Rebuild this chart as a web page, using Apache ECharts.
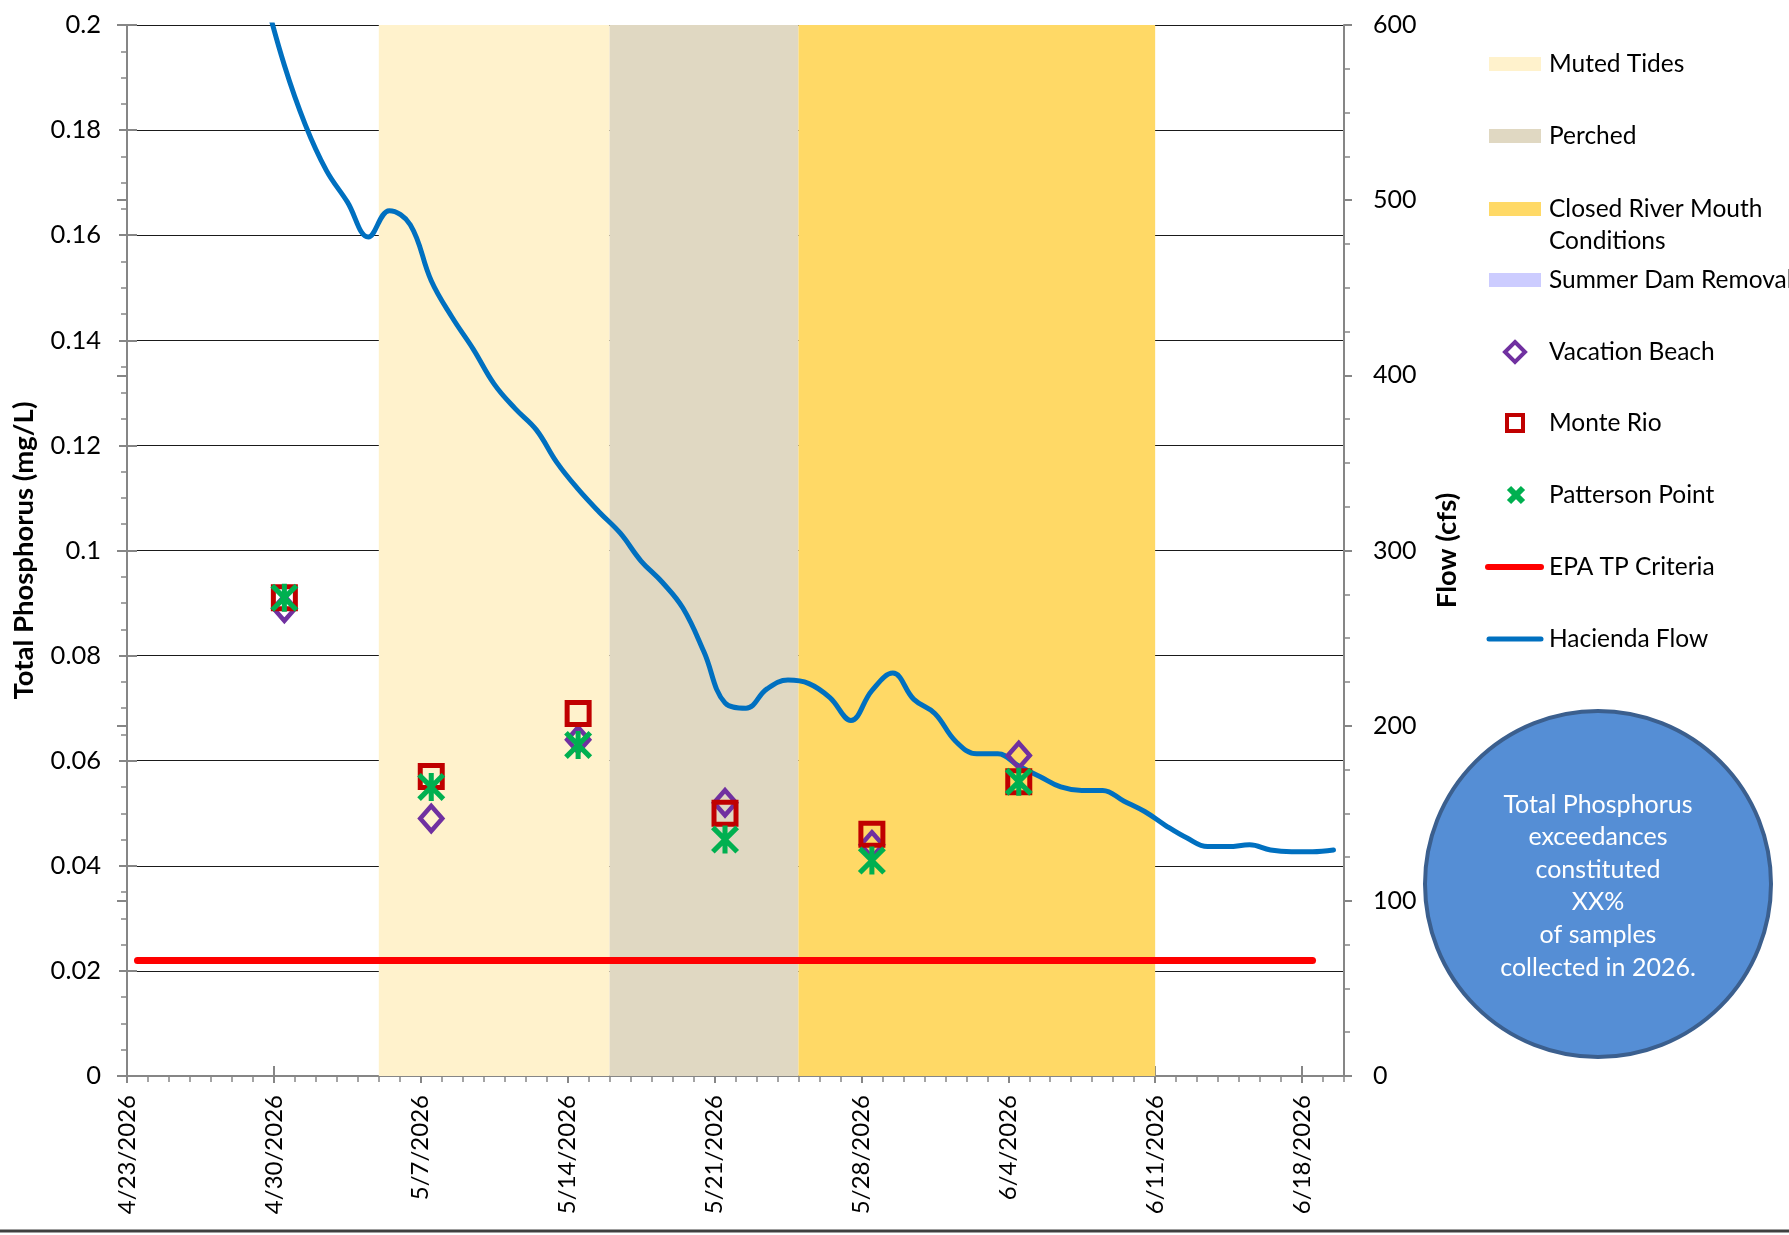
<!DOCTYPE html>
<html>
<head>
<meta charset="utf-8">
<script src="https://cdn.jsdelivr.net/npm/echarts@6/dist/echarts.min.js"></script>
<style>
html,body{margin:0;padding:0;background:#fff;}
#chart{width:1789px;height:1235px;}
</style>
</head>
<body>
<div id="chart"></div>
<script>
// ---------------- DATA ----------------
const START_DATE = '2026-04-23';
const END_DATE = '2026-06-20';
const xTickLabels = ['4/23/2026','4/30/2026','5/7/2026','5/14/2026','5/21/2026','5/28/2026','6/4/2026','6/11/2026','6/18/2026'];
const leftTickLabels = ['0','0.02','0.04','0.06','0.08','0.1','0.12','0.14','0.16','0.18','0.2'];
const rightTickLabels = ['0','100','200','300','400','500','600'];

const bandNames  = ['Muted Tides','Perched','Closed River Mouth Conditions'];
const bandStarts = ['2026-05-05','2026-05-16','2026-05-25'];
const bandEnds   = ['2026-05-16','2026-05-25','2026-06-11'];

const sampleDates    = ['2026-04-30','2026-05-07','2026-05-14','2026-05-21','2026-05-28','2026-06-04'];
const vacationBeach  = [0.089, 0.049, 0.064, 0.052, 0.044, 0.061];
const monteRio       = [0.091, 0.057, 0.069, 0.050, 0.046, 0.056];
const pattersonPoint = [0.091, 0.055, 0.063, 0.045, 0.041, 0.056];

const epaDates    = ['2026-04-23','2026-06-18'];
const epaCriteria = [0.022, 0.022];

const flowStartDate = '2026-04-29'; // daily values from this date
const haciendaFlow = [620,577,543,517,499,479,494,486,454,433,415,395,381,369,350,335,322,310,294,282,
                      267,242,213,210,221,226,224,216,203,220,230,215,207,191,184,184,177,171,165,163,
                      163,157,151,143,136,131,131,132,129,128,128,129];

const circleLines = ['Total Phosphorus','exceedances','constituted','XX%','of samples','collected in 2026.'];

// ---------------- HELPERS ----------------
const DAY = 86400000;
const t0 = Date.parse(START_DATE + 'T00:00:00Z');
const dayOf = s => (Date.parse(s + 'T00:00:00Z') - t0) / DAY;
const DAY_CENTER = 0.5; // Excel date axis plots points at the middle of the day
const xMax = dayOf(END_DATE);
const majorDays = xTickLabels.map((_, i) => i * 7);

const FONT = 'Lato, "Open Sans", sans-serif';
const AXIS_GREY = '#868686';

const flowData = haciendaFlow.map((v, i) => [dayOf(flowStartDate) + i + DAY_CENTER, v]);
const pts = arr => arr.map((v, i) => [dayOf(sampleDates[i]) + DAY_CENTER, v]);
const epaData = epaCriteria.map((v, i) => [dayOf(epaDates[i]) + DAY_CENTER, v]);
const bandColors = ['#FFF2CC', '#E0D8C2', '#FFD966'];
const summerColor = '#CCCCFF';

const xPath = 'path://M0 13L13 0L100 87L87 100Z M87 0L100 13L13 100L0 87Z M41 0L59 0L59 100L41 100Z';

// ---------------- CHART ----------------
const chart = echarts.init(document.getElementById('chart'), null, {renderer: 'canvas'});

const baseX = {type: 'value', min: 0, max: xMax, interval: 7, gridIndex: 0, position: 'bottom',
  splitLine: {show: false}};
const baseYL = {type: 'value', min: 0, max: 0.2, interval: 0.02, gridIndex: 0, position: 'left'};
const baseYR = {type: 'value', min: 0, max: 600, interval: 100, gridIndex: 0, position: 'right'};

const legendRows = [64, 136, 209, 280, 352, 423, 495, 567, 639];
const LEG_FONT = '24.5px ' + FONT;
const legendText = (txt, y) => ({type: 'text', x: 1549, y: y,
  style: {text: txt, fill: '#000', font: LEG_FONT, verticalAlign: 'middle', align: 'left'}});

const graphics = [];
bandNames.forEach((n, i) => {
  graphics.push({type: 'rect', shape: {x: 1489, y: legendRows[i] - 7, width: 52, height: 14}, style: {fill: bandColors[i]}});
});
graphics.push({type: 'rect', shape: {x: 1489, y: legendRows[3] - 7, width: 52, height: 14}, style: {fill: summerColor}});
graphics.push(legendText('Muted Tides', legendRows[0]));
graphics.push(legendText('Perched', legendRows[1]));
graphics.push(legendText('Closed River Mouth', legendRows[2]));
graphics.push(legendText('Conditions', legendRows[2] + 32));
graphics.push(legendText('Summer Dam Removal', legendRows[3]));
graphics.push({type: 'polygon', shape: {points: [[1515, legendRows[4]-10],[1525, legendRows[4]],[1515, legendRows[4]+10],[1505, legendRows[4]]]},
  style: {fill: 'none', stroke: '#7030A0', lineWidth: 4}});
graphics.push(legendText('Vacation Beach', legendRows[4]));
graphics.push({type: 'rect', shape: {x: 1507, y: legendRows[5]-8, width: 16, height: 16},
  style: {fill: 'none', stroke: '#C00000', lineWidth: 4}});
graphics.push(legendText('Monte Rio', legendRows[5]));
[[[1509,legendRows[6]-7],[1523,legendRows[6]+7]],[[1523,legendRows[6]-7],[1509,legendRows[6]+7]]].forEach(p => {
  graphics.push({type: 'line', shape: {x1: p[0][0], y1: p[0][1], x2: p[1][0], y2: p[1][1]}, style: {stroke: '#00B050', lineWidth: 6}});
});
graphics.push(legendText('Patterson Point', legendRows[6]));
graphics.push({type: 'line', shape: {x1: 1488, y1: legendRows[7], x2: 1541, y2: legendRows[7]}, style: {stroke: '#FF0000', lineWidth: 6, lineCap: 'round'}});
graphics.push(legendText('EPA TP Criteria', legendRows[7]));
graphics.push({type: 'line', shape: {x1: 1489, y1: legendRows[8], x2: 1541, y2: legendRows[8]}, style: {stroke: '#0070C0', lineWidth: 5, lineCap: 'round'}});
graphics.push(legendText('Hacienda Flow', legendRows[8]));
graphics.push({type: 'circle', shape: {cx: 1598, cy: 884, r: 173}, style: {fill: '#558ED5', stroke: '#3B5F8E', lineWidth: 4}});
graphics.push({type: 'text', x: 1598, y: 886, style: {text: circleLines.join('\n'), fill: '#fff', font: '25px ' + FONT,
  align: 'center', verticalAlign: 'middle', lineHeight: 32.6}});
graphics.push({type: 'line', shape: {x1: 0, y1: 1231, x2: 1789, y2: 1231}, style: {stroke: '#404040', lineWidth: 3}});

const option = {
  animation: false,
  backgroundColor: '#fff',
  grid: {left: 127, top: 25, width: 1217, height: 1051, containLabel: false},
  xAxis: [
    Object.assign({}, baseX, {
      axisLine: {show: true, onZero: false, lineStyle: {color: AXIS_GREY, width: 2}},
      axisTick: {show: true, inside: false, length: 7, customValues: majorDays, lineStyle: {color: AXIS_GREY, width: 2}},
      axisLabel: {show: true, rotate: 90, margin: 19, customValues: majorDays, color: '#000', fontSize: 24, fontFamily: FONT,
        formatter: v => { const i = Math.round(v / 7); return Math.abs(v - i * 7) < 1e-6 ? (xTickLabels[i] || '') : ''; }}
    }),
    Object.assign({}, baseX, {interval: 1,
      axisLine: {show: false, onZero: false}, axisLabel: {show: false},
      axisTick: {show: true, inside: false, length: 6, lineStyle: {color: AXIS_GREY, width: 1.5}}}),
    Object.assign({}, baseX, {
      axisLine: {show: false, onZero: false}, axisLabel: {show: false},
      axisTick: {show: true, inside: true, length: 10, customValues: majorDays, lineStyle: {color: AXIS_GREY, width: 2}}})
  ],
  yAxis: [
    Object.assign({}, baseYL, {
      name: 'Total Phosphorus (mg/L)', nameLocation: 'middle', nameGap: 89, nameRotate: 90,
      nameTextStyle: {color: '#000', fontWeight: 'bold', fontSize: 27.5, fontFamily: FONT},
      axisLine: {show: true, onZero: false, lineStyle: {color: AXIS_GREY, width: 2}},
      axisTick: {show: true, inside: false, length: 8, lineStyle: {color: AXIS_GREY, width: 2}},
      minorTick: {show: true, splitNumber: 4, length: 6, lineStyle: {color: AXIS_GREY, width: 1.5}},
      splitLine: {show: true, lineStyle: {color: '#1a1a1a', width: 1}},
      axisLabel: {margin: 26, color: '#000', fontSize: 25.5, fontFamily: FONT,
        formatter: v => leftTickLabels[Math.round(v / 0.02)] || ''}
    }),
    Object.assign({}, baseYR, {
      name: 'Flow (cfs)', nameLocation: 'middle', nameGap: 89, nameRotate: 90,
      nameTextStyle: {color: '#000', fontWeight: 'bold', fontSize: 27.5, fontFamily: FONT},
      axisLine: {show: true, onZero: false, lineStyle: {color: AXIS_GREY, width: 2}},
      axisTick: {show: true, inside: false, length: 8, lineStyle: {color: AXIS_GREY, width: 2}},
      minorTick: {show: true, splitNumber: 4, length: 6, lineStyle: {color: AXIS_GREY, width: 1.5}},
      splitLine: {show: false},
      axisLabel: {margin: 29, color: '#000', fontSize: 25, fontFamily: FONT,
        formatter: v => rightTickLabels[Math.round(v / 100)] || ''}
    }),
    Object.assign({}, baseYL, {axisLine: {show: false}, axisLabel: {show: false}, splitLine: {show: false},
      axisTick: {show: true, inside: true, length: 10, lineStyle: {color: AXIS_GREY, width: 2}}}),
    Object.assign({}, baseYR, {axisLine: {show: false}, axisLabel: {show: false}, splitLine: {show: false},
      axisTick: {show: true, inside: true, length: 10, lineStyle: {color: AXIS_GREY, width: 2}}})
  ],
  series: [
    {
      name: 'Bands', type: 'line', xAxisIndex: 0, yAxisIndex: 0, data: [], silent: true, z: 1,
      markArea: {silent: true,
        data: bandNames.map((n, i) => [
          {name: n, xAxis: dayOf(bandStarts[i]), itemStyle: {color: bandColors[i], opacity: 1}},
          {xAxis: dayOf(bandEnds[i])}
        ]),
        label: {show: false}}
    },
    {
      name: 'EPA TP Criteria', type: 'line', xAxisIndex: 0, yAxisIndex: 0, data: epaData, z: 3,
      symbol: 'none', lineStyle: {color: '#FF0000', width: 7, cap: 'round'}
    },
    {
      name: 'Hacienda Flow', type: 'line', xAxisIndex: 0, yAxisIndex: 1, data: flowData, z: 4,
      symbol: 'none', smooth: 0.4, clip: true, lineStyle: {color: '#0070C0', width: 5, cap: 'round'}
    },
    {
      name: 'Vacation Beach', type: 'scatter', xAxisIndex: 0, yAxisIndex: 0, data: pts(vacationBeach), z: 5,
      symbol: 'diamond', symbolSize: [22, 25],
      itemStyle: {color: 'rgba(0,0,0,0)', borderColor: '#7030A0', borderWidth: 4.5, opacity: 1}
    },
    {
      name: 'Monte Rio', type: 'scatter', xAxisIndex: 0, yAxisIndex: 0, data: pts(monteRio), z: 6,
      symbol: 'rect', symbolSize: 22,
      itemStyle: {color: 'rgba(0,0,0,0)', borderColor: '#C00000', borderWidth: 5, opacity: 1}
    },
    {
      name: 'Patterson Point', type: 'scatter', xAxisIndex: 0, yAxisIndex: 0, data: pts(pattersonPoint), z: 7,
      symbol: xPath, symbolSize: [28, 28],
      itemStyle: {color: '#00B050', opacity: 1}
    }
  ],
  graphic: graphics
};
chart.setOption(option);
</script>
</body>
</html>
